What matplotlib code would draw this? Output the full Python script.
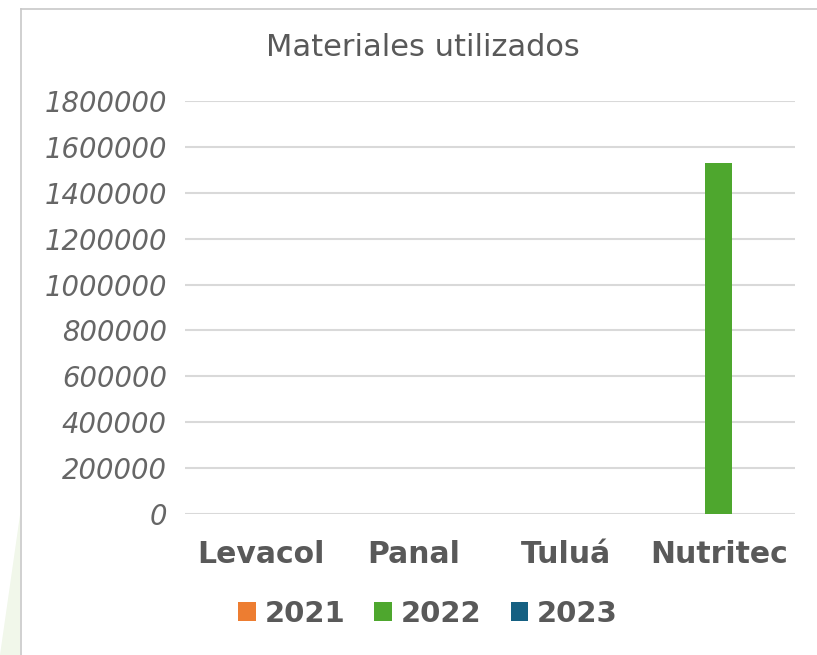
import matplotlib
matplotlib.use("Agg")
import matplotlib.pyplot as plt
import numpy as np
from matplotlib.patches import Polygon
from matplotlib.lines import Line2D

categories = ["Levacol", "Panal", "Tuluá", "Nutritec"]
years = ["2021", "2022", "2023"]
v2021 = [0, 0, 0, 0]
v2022 = [0, 0, 0, 1530000]
v2023 = [0, 0, 0, 0]
series = [v2021, v2022, v2023]
colors = ["#ED7D31", "#4EA72E", "#156082"]
yticks = [0, 200000, 400000, 600000, 800000, 1000000, 1200000, 1400000, 1600000, 1800000]

plt.rcParams['font.family'] = ['DejaVu Sans']
W, H = 817, 655
fig = plt.figure(figsize=(W/100, H/100), dpi=100)
fig.patch.set_facecolor("white")

# decorative background elements
fig.patches.append(Polygon([[0, 0], [20/W, 0], [20/W, 140/H], [0, 0]], closed=True,
                           transform=fig.transFigure, facecolor="#f1f7ea", edgecolor="none", zorder=0))
fig.lines.append(Line2D([21/W, 21/W], [0, 1 - 9/H], transform=fig.transFigure, color="#c8c8c8", lw=1.2))
fig.lines.append(Line2D([21/W, 1], [1 - 9/H, 1 - 9/H], transform=fig.transFigure, color="#c8c8c8", lw=1.2))

left, right = 185/W, 795/W
bottom, top = 1 - 514/H, 1 - 101/H
ax = fig.add_axes([left, bottom, right - left, top - bottom])
ax.set_facecolor("none")

x = np.arange(len(categories))
bw = 0.177
for i, (vals, c, yr) in enumerate(zip(series, colors, years)):
    ax.bar(x + (i - 1) * bw, vals, width=bw, color=c, label=yr, zorder=3)

ax.set_xlim(-0.5, len(categories) - 0.5)
ax.set_ylim(0, 1800000)
ax.set_yticks(yticks)
ax.set_yticklabels([str(v) for v in yticks], fontstyle="italic", fontsize=19.8, color="#666666")
ax.set_xticks(x)
ax.set_xticklabels(categories, fontsize=21.5, color="#595959", fontweight="bold")
ax.tick_params(axis="both", length=0)
ax.tick_params(axis="y", pad=13)
ax.tick_params(axis="x", pad=19)
ax.yaxis.grid(True, color="#d9d9d9", lw=1.5, zorder=0)
for s in ax.spines.values():
    s.set_visible(False)

fig.text(423/W, 1 - 47/H, "Materiales utilizados", ha="center", va="center",
         fontsize=22, color="#595959")

leg = ax.legend(loc="center", bbox_to_anchor=(428/W, 1 - 614/H), bbox_transform=fig.transFigure,
                ncol=3, frameon=False, fontsize=21, handlelength=0.6, handleheight=0.6,
                handletextpad=0.3, columnspacing=1.0)
for t in leg.get_texts():
    t.set_color("#595959")
    t.set_fontweight("bold")

fig.savefig("out.png", dpi=100)
